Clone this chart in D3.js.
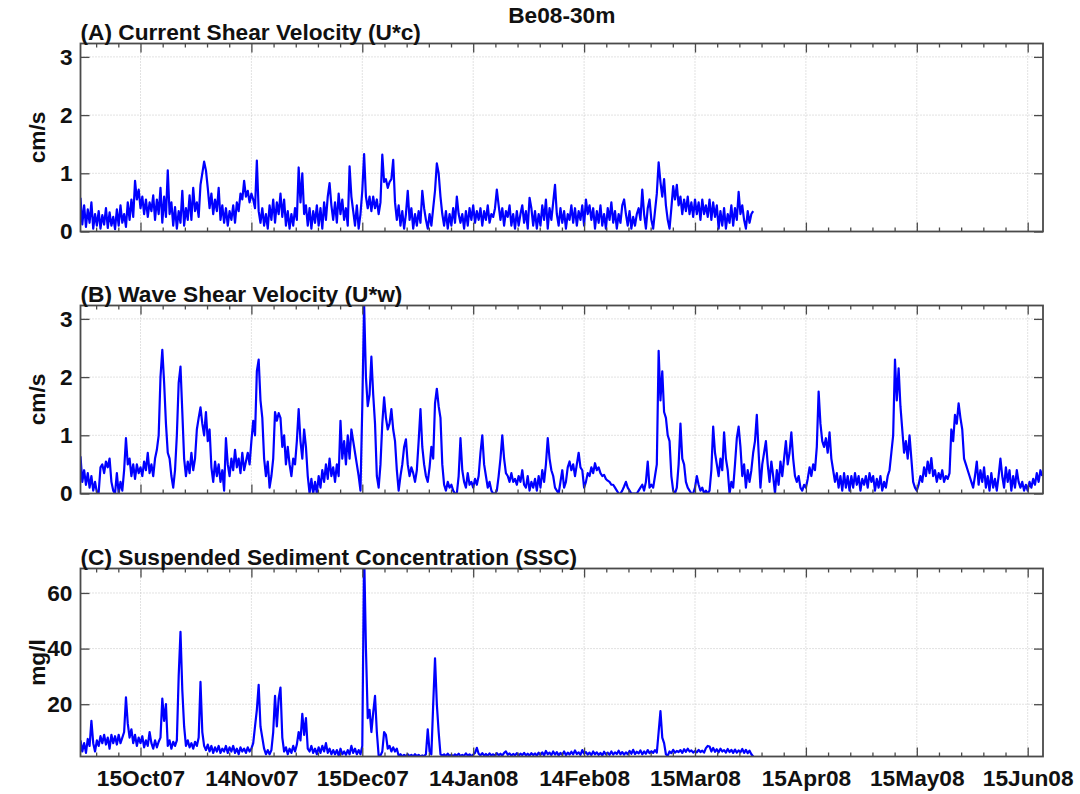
<!DOCTYPE html>
<html>
<head>
<meta charset="utf-8">
<script src="https://cdn.jsdelivr.net/npm/d3@7"></script>
<style>
  html, body { margin: 0; padding: 0; background: #fff; }
  svg { display: block; font-family: "Liberation Sans", Arial, Helvetica, sans-serif; font-weight: bold; }
</style>
</head>
<body>
<svg id="chart" width="1080" height="794"></svg>
<script>
// ---- time base: one value every 12 hours from seriesStart ----
const seriesStart = "2007-09-28T12:00:00Z";
const sampleHours = 12;
const xStart = "2007-09-28T12:00:00Z";
const xEnd = "2008-06-19T05:00:00Z";

// ---- date axis ----
const tickDates = [
  "2007-10-15T00:00:00Z", "2007-11-14T12:00:00Z", "2007-12-15T00:00:00Z",
  "2008-01-14T12:00:00Z", "2008-02-14T00:00:00Z", "2008-03-15T12:00:00Z",
  "2008-04-15T00:00:00Z", "2008-05-15T12:00:00Z", "2008-06-15T00:00:00Z"
];
const tickLabels = ["15Oct07", "14Nov07", "15Dec07", "14Jan08", "14Feb08", "15Mar08", "15Apr08", "15May08", "15Jun08"];

// ---- value axes ----
const shearTicks = [0, 1, 2, 3];
const sscTicks = [20, 40, 60];

// ---- (A) current shear velocity, cm/s ----
const currentShear = [
  0.58,0.12,0.45,0.08,0.38,0.15,0.5,0.05,0.3,0.1,
  0.35,0.05,0.28,0.12,0.4,0.06,0.33,0.1,0.25,0.04,
  0.38,0.1,0.45,0.15,0.3,0.08,0.5,0.2,0.55,0.25,
  0.87,0.55,0.72,0.4,0.6,0.3,0.55,0.25,0.5,0.35,
  0.62,0.2,0.55,0.3,0.75,0.15,0.6,0.25,1.05,0.3,
  0.5,0.1,0.42,0.05,0.35,0.15,0.7,0.1,0.4,0.2,
  0.62,0.2,0.75,0.35,0.5,0.25,0.8,1.0,1.2,1.05,
  0.75,0.4,0.65,0.3,0.55,0.35,0.75,0.2,0.45,0.15,
  0.4,0.1,0.35,0.2,0.45,0.15,0.5,0.35,0.65,0.55,
  0.87,0.6,0.7,0.5,0.65,0.55,0.4,1.22,0.35,0.15,
  0.4,0.1,0.3,0.05,0.45,0.2,0.55,0.15,0.5,0.3,
  0.65,0.25,0.55,0.1,0.35,0.05,0.3,0.1,0.4,0.2,
  1.1,0.5,1.0,0.3,0.45,0.1,0.4,0.05,0.35,0.15,
  0.45,0.1,0.4,0.05,0.5,0.2,0.6,0.83,0.45,0.2,
  0.5,0.15,0.65,0.3,0.55,0.2,0.4,0.1,1.12,0.6,
  0.35,0.1,0.45,0.05,0.3,0.7,1.33,0.6,0.4,0.6,
  0.35,0.6,0.4,0.55,0.3,0.5,1.32,0.85,0.9,0.75,
  0.85,0.9,1.23,0.5,0.2,0.45,0.1,0.35,0.05,0.3,
  0.7,0.2,0.4,0.05,0.3,0.1,0.35,0.15,0.7,0.4,
  0.2,0.05,0.3,0.1,0.4,0.7,1.17,1.0,0.6,0.3,
  0.1,0.35,0.05,0.3,0.1,0.4,0.15,0.6,0.3,0.15,
  0.3,0.05,0.35,0.1,0.4,0.2,0.45,0.15,0.35,0.2,
  0.4,0.1,0.35,0.2,0.45,0.15,0.3,0.25,0.4,0.72,
  0.45,0.2,0.4,0.1,0.35,0.25,0.45,0.1,0.3,0.05,
  0.35,0.1,0.3,0.45,0.15,0.35,0.05,0.58,0.4,0.1,
  0.35,0.05,0.3,0.1,0.45,0.2,0.55,0.05,0.4,0.2,
  0.5,0.8,0.3,0.1,0.4,0.15,0.35,0.05,0.3,0.2,
  0.45,0.15,0.4,0.1,0.35,0.2,0.45,0.1,0.55,0.3,
  0.45,0.2,0.4,0.05,0.35,0.15,0.45,0.1,0.3,0.05,
  0.4,0.2,0.5,0.15,0.35,0.05,0.3,0.15,0.45,0.55,
  0.3,0.1,0.35,0.05,0.25,0.1,0.3,0.4,0.2,0.72,
  0.3,0.05,0.4,0.55,0.2,0.05,0.35,0.65,1.19,0.85,
  0.6,0.9,0.45,0.2,0.05,0.4,0.78,0.55,0.8,0.45,
  0.6,0.3,0.55,0.35,0.6,0.3,0.5,0.25,0.55,0.3,
  0.5,0.2,0.55,0.3,0.45,0.25,0.55,0.2,0.5,0.25,
  0.45,0.05,0.35,0.1,0.4,0.05,0.3,0.15,0.45,0.1,
  0.4,0.2,0.68,0.3,0.45,0.2,0.05,0.35,0.15,0.3,
  0.35
];

// ---- (B) wave shear velocity, cm/s ----
const waveShear = [
  0.64,0.2,0.4,0.15,0.35,0.1,0.3,0.05,0.2,0.02,
  0.02,0.45,0.5,0.35,0.55,0.45,0.6,0.2,0.05,0.0,
  0.35,0.0,0.2,0.05,0.4,0.95,0.5,0.6,0.3,0.5,
  0.25,0.5,0.35,0.45,0.3,0.55,0.4,0.7,0.35,0.5,
  0.3,0.6,0.75,1.0,2.0,2.47,1.9,1.2,0.7,0.6,
  0.3,0.1,0.4,1.0,1.9,2.18,1.4,0.6,0.3,0.55,
  0.35,0.7,0.4,0.6,1.1,1.3,1.48,1.2,1.0,1.4,
  0.9,1.1,0.45,0.2,0.55,0.3,0.5,0.2,0.4,0.05,
  0.95,0.5,0.3,0.6,0.4,0.75,0.45,0.6,0.35,0.7,
  0.4,0.55,0.7,0.5,0.9,1.25,1.0,2.1,2.3,1.6,
  1.3,0.6,0.3,0.55,0.1,0.3,0.6,1.4,1.25,1.38,
  1.3,0.8,1.0,0.5,0.8,0.5,0.3,0.6,0.5,0.9,
  1.45,0.9,0.6,1.1,0.8,0.3,0.0,0.25,0.0,0.2,
  0.0,0.3,0.1,0.4,0.2,0.5,0.25,0.6,0.3,0.45,
  0.2,0.5,0.3,1.25,0.6,0.9,0.5,1.0,0.6,1.1,
  0.9,0.7,0.5,0.3,0.05,1.5,3.25,2.0,1.5,1.7,
  2.35,1.7,1.2,0.3,0.1,0.5,1.2,1.65,1.3,1.1,
  1.2,1.45,1.1,0.9,0.4,0.05,0.3,0.5,0.8,0.93,
  0.5,0.3,0.45,0.35,0.2,0.4,0.9,1.45,0.8,0.5,
  0.3,0.2,0.45,0.8,0.6,1.55,1.8,1.5,1.3,0.5,
  0.15,0.05,0.2,0.1,0.15,0.05,0.0,0.0,0.3,0.95,
  0.4,0.2,0.1,0.35,0.15,0.2,0.1,0.25,0.15,0.3,
  0.7,1.0,0.5,0.3,0.1,0.2,0.05,0.0,0.0,0.05,
  0.3,0.6,1.0,0.6,0.35,0.3,0.2,0.35,0.2,0.25,
  0.15,0.3,0.2,0.4,0.15,0.1,0.3,0.05,0.2,0.1,
  0.25,0.05,0.3,0.1,0.4,0.2,0.5,0.95,0.6,0.4,
  0.3,0.1,0.05,0.0,0.2,0.4,0.1,0.2,0.45,0.55,
  0.4,0.5,0.3,0.5,0.7,0.45,0.4,0.1,0.2,0.35,
  0.3,0.45,0.35,0.52,0.4,0.45,0.35,0.3,0.32,0.25,
  0.22,0.2,0.15,0.15,0.1,0.05,0.0,0.0,0.05,0.12,
  0.2,0.1,0.05,0.0,0.0,0.0,0.0,0.05,0.1,0.15,
  0.05,0.2,0.55,0.1,0.15,0.1,0.3,0.5,2.45,1.6,
  2.1,1.4,1.3,1.0,0.9,0.3,0.05,0.0,0.1,0.5,
  1.2,0.6,0.5,0.2,0.1,0.05,0.0,0.0,0.1,0.3,
  0.15,0.05,0.1,0.0,0.05,0.0,0.05,0.4,1.15,0.7,
  0.5,0.3,0.6,0.4,1.05,0.6,0.4,0.0,0.2,0.1,
  0.5,0.95,1.15,0.8,0.3,0.5,0.1,0.4,0.2,0.4,
  0.7,0.9,1.35,0.7,0.1,0.5,0.7,0.9,0.5,0.2,
  0.55,0.3,0.0,0.4,0.15,0.55,0.3,0.6,0.9,0.5,
  0.7,1.05,0.6,0.3,0.2,0.3,0.1,0.05,0.15,0.1,
  0.25,0.45,0.3,0.5,0.4,0.8,1.75,1.2,0.9,0.8,
  0.95,0.7,1.05,0.6,0.4,0.2,0.35,0.1,0.3,0.05,
  0.35,0.1,0.3,0.05,0.3,0.1,0.35,0.15,0.3,0.05,
  0.25,0.15,0.3,0.1,0.35,0.2,0.3,0.05,0.25,0.1,
  0.3,0.05,0.2,0.1,0.3,0.4,0.7,1.0,2.3,1.6,
  2.15,1.5,1.1,0.7,0.9,0.6,1.0,0.6,0.2,0.1,
  0.05,0.15,0.3,0.2,0.45,0.3,0.55,0.35,0.61,0.3,
  0.4,0.2,0.35,0.25,0.4,0.2,0.3,0.25,0.35,1.1,
  0.9,1.35,1.2,1.55,1.3,1.1,0.6,0.5,0.4,0.3,
  0.2,0.1,0.3,0.55,0.15,0.4,0.2,0.45,0.1,0.3,
  0.05,0.35,0.1,0.25,0.05,0.3,0.6,0.3,0.1,0.45,
  0.2,0.4,0.05,0.3,0.1,0.4,0.2,0.1,0.2,0.05,
  0.15,0.05,0.2,0.1,0.25,0.15,0.35,0.2,0.4,0.3
];

// ---- (C) suspended sediment concentration, mg/l ----
const ssc = [
  7,3,6,2.5,7.5,5,14,6,3,7,
  5,8.5,6,9,5.5,8,4,9,6,8.5,
  5.5,9,6,8,10,22.5,13,8,11,6,
  9,5,8,6,8.5,4.5,7,5,10,6,
  4,7,4.5,6.5,8,22,14,20,5,7,
  4,6.5,5,7,30,46,25,12,5,7,
  4.5,6,4,6.5,5,8,28,10,5,3.5,
  5.5,3,5,2.5,4.5,3,5,2.5,4,3,
  5,2.5,4.5,3,5,2.5,4,2,4.5,3,
  4,2.5,4.5,3,4,6,12,18,27,12,
  8,4,2,3.5,2,3.5,10,23,12,22,
  26,8,3,4.5,2,4,2.5,5,3,5.5,
  10,7,16.5,9,15,4,3,5,2.5,4,
  2,4.5,2.5,5,3,6,2.5,4,2,3.5,
  2,3.5,1.5,4,2,3,1.8,3.5,2,5,
  2.5,4,2,3.5,2,5,75,40,15,18,
  10,17,23,10,1.5,1.5,3,10,9,4,
  5,3,4.5,3,4,1.5,2,1.2,1.8,1.3,
  2,1.3,1.8,1.2,2,1.4,1.8,1.2,1.6,1.3,
  2,11,3,2,20,36.5,20,10,2,1.5,
  2,1.3,2.2,1.4,1.8,1.3,2,1.5,2.2,1.3,
  1.8,1.4,2.3,1.5,2,1.3,1.9,2.5,4.3,2.2,
  1.6,2.4,1.5,2.1,1.4,2.3,1.6,2,1.5,2.4,
  1.6,2.2,1.5,2.5,3,1.8,2.3,1.5,2.1,1.6,
  2.4,1.5,2.2,1.7,2.5,1.6,2.2,1.5,2.4,1.7,
  2.3,1.5,2.6,1.8,2.7,1.6,3.2,2,2.6,1.7,
  3,1.9,2.8,1.6,2.5,1.8,3,1.7,2.6,1.9,
  2.9,2,3.4,2.1,2.7,1.8,3.5,2.2,2.8,1.9,
  2.6,1.7,3,2,2.7,1.8,2.5,1.6,2.9,2,
  2.6,1.8,3,1.9,2.7,2.1,3.3,2,2.8,1.9,
  2.7,2,3.2,2.2,3.6,2.1,2.9,2.3,3.4,2,
  3,2.2,3.5,2.4,3.1,2.5,3.5,2.6,10,17.5,
  8,6,2,1.5,3,2.4,3.6,2.6,3.2,2.8,
  3.5,2.5,3.8,2.9,4,3,3.4,2.6,3.2,2.7,
  3.6,2.8,3.3,2.6,4.2,5,4.8,3,4.3,2.9,
  3.8,2.7,4,3,3.5,2.6,3.9,2.8,3.6,2.5,
  3.7,2.6,3.4,2.7,3.9,2.5,3.6,2.4,3.3,2,
  1.2
];

// ---- layout ----
const plotLeft = 80.5, plotRight = 1043, plotHeight = 188;
const fontSize = 22.7;
const lineColor = "#0000ff";
const frameColor = "#4a4a4a";
const gridColor = "#c4c4c4";

const svg = d3.select("#chart");

const x = d3.scaleUtc()
  .domain([new Date(xStart), new Date(xEnd)])
  .range([plotLeft, plotRight]);

const majorTicks = tickDates.map(s => new Date(s));
const majorStep = majorTicks[1] - majorTicks[0];
const minorStep = majorStep / 5;
const [d0, d1] = x.domain();
const minorTicks = [];
for (let t = +majorTicks[0] - minorStep; t >= +d0; t -= minorStep) minorTicks.push(new Date(t));
for (let k = 0; k < majorTicks.length; k++) {
  for (let j = 1; j < 5; j++) {
    const t = +majorTicks[k] + j * minorStep;
    if (t <= +d1) minorTicks.push(new Date(t));
  }
}
const labelOf = new Map(majorTicks.map((d, i) => [+d, tickLabels[i]]));

const t0 = new Date(seriesStart).getTime();
const toPoints = vals => vals.map((v, i) => ({ t: new Date(t0 + i * sampleHours * 3600e3), v }));

const panels = [
  { top: 43.5, title: "(A) Current Shear Velocity (U*c)", unit: "cm/s",
    values: currentShear, domain: [0, 3.23], ticks: shearTicks, dateLabels: false },
  { top: 305.5, title: "(B) Wave Shear Velocity (U*w)", unit: "cm/s",
    values: waveShear, domain: [0, 3.23], ticks: shearTicks, dateLabels: false },
  { top: 568.5, title: "(C) Suspended Sediment Concentration (SSC)", unit: "mg/l",
    values: ssc, domain: [1.2, 68.8], ticks: sscTicks, dateLabels: true }
];

svg.append("text")
  .attr("x", (plotLeft + plotRight) / 2)
  .attr("y", 23)
  .attr("text-anchor", "middle")
  .attr("font-size", fontSize)
  .attr("fill", "#111")
  .text("Be08-30m");

const stripDomain = g => g.select(".domain").remove();

panels.forEach((p, idx) => {
  const top = p.top, bottom = top + plotHeight;
  const y = d3.scaleLinear().domain(p.domain).range([bottom, top]);
  const g = svg.append("g");

  // dotted grid
  g.append("g").selectAll("line").data(majorTicks).join("line")
    .attr("x1", d => x(d)).attr("x2", d => x(d))
    .attr("y1", top).attr("y2", bottom)
    .attr("stroke", gridColor).attr("stroke-width", 1).attr("stroke-dasharray", "1,2");
  g.append("g").selectAll("line").data(p.ticks).join("line")
    .attr("x1", plotLeft).attr("x2", plotRight)
    .attr("y1", d => y(d)).attr("y2", d => y(d))
    .attr("stroke", gridColor).attr("stroke-width", 1).attr("stroke-dasharray", "1,2");

  // series
  const clipId = "clip" + idx;
  g.append("clipPath").attr("id", clipId).append("rect")
    .attr("x", plotLeft).attr("y", top)
    .attr("width", plotRight - plotLeft).attr("height", plotHeight);
  const line = d3.line().x(d => x(d.t)).y(d => y(d.v));
  g.append("path")
    .datum(toPoints(p.values))
    .attr("clip-path", `url(#${clipId})`)
    .attr("fill", "none")
    .attr("stroke", lineColor)
    .attr("stroke-width", 2.2)
    .attr("stroke-linejoin", "round")
    .attr("d", line);

  // inward ticks on all four sides
  const tickStyle = sel => sel.selectAll(".tick line").attr("stroke", frameColor).attr("stroke-width", 1.3);
  g.append("g").attr("transform", `translate(0,${top})`)
    .call(d3.axisTop(x).tickValues(majorTicks).tickSize(-9).tickFormat(""))
    .call(stripDomain).call(tickStyle);
  g.append("g").attr("transform", `translate(0,${top})`)
    .call(d3.axisTop(x).tickValues(minorTicks).tickSize(-4).tickFormat(""))
    .call(stripDomain).call(tickStyle);
  g.append("g").attr("transform", `translate(0,${bottom})`)
    .call(d3.axisBottom(x).tickValues(minorTicks).tickSize(-4).tickFormat(""))
    .call(stripDomain).call(tickStyle);
  const bottomAxis = g.append("g").attr("transform", `translate(0,${bottom})`)
    .call(d3.axisBottom(x).tickValues(majorTicks).tickSize(-9).tickPadding(13)
      .tickFormat(d => p.dateLabels ? labelOf.get(+d) : ""))
    .call(stripDomain).call(tickStyle);
  bottomAxis.selectAll("text")
    .attr("font-size", fontSize).attr("font-family", null).attr("fill", "#111");

  const leftAxis = g.append("g").attr("transform", `translate(${plotLeft},0)`)
    .call(d3.axisLeft(y).tickValues(p.ticks).tickSize(-9).tickPadding(8).tickFormat(d3.format("d")))
    .call(stripDomain).call(tickStyle);
  leftAxis.selectAll("text")
    .attr("font-size", fontSize).attr("font-family", null).attr("fill", "#111");
  g.append("g").attr("transform", `translate(${plotRight},0)`)
    .call(d3.axisRight(y).tickValues(p.ticks).tickSize(-9).tickFormat(""))
    .call(stripDomain).call(tickStyle);

  // frame
  g.append("rect")
    .attr("x", plotLeft).attr("y", top)
    .attr("width", plotRight - plotLeft).attr("height", plotHeight)
    .attr("fill", "none").attr("stroke", frameColor).attr("stroke-width", 1.8);

  // panel title and unit
  g.append("text")
    .attr("x", plotLeft).attr("y", top - 4)
    .attr("font-size", fontSize).attr("fill", "#111")
    .text(p.title);
  g.append("text")
    .attr("transform", `translate(45,${(top + bottom) / 2}) rotate(-90)`)
    .attr("text-anchor", "middle")
    .attr("font-size", fontSize).attr("fill", "#111")
    .text(p.unit);
});
</script>
</body>
</html>
